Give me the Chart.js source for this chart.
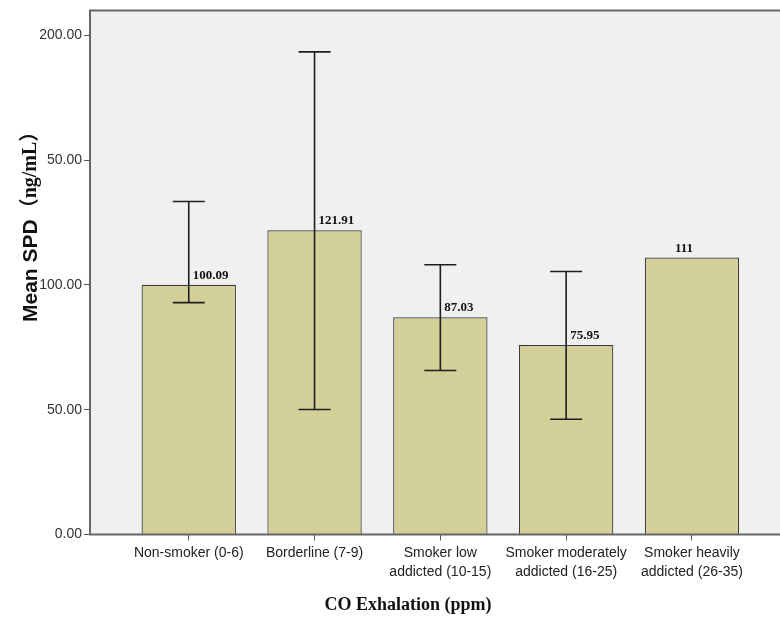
<!DOCTYPE html>
<html>
<head>
<meta charset="utf-8">
<script src="https://cdn.jsdelivr.net/npm/chart.js@4/dist/chart.umd.min.js"></script>
<style>
  html, body { margin: 0; padding: 0; background: #ffffff; }
  canvas { display: block; }
</style>
</head>
<body>
<canvas id="c" width="780" height="620"></canvas>
<script>
// CO exhalation groups (multi-line tick labels)
const categories = [
  ['Non-smoker (0-6)'],
  ['Borderline (7-9)'],
  ['Smoker low', 'addicted (10-15)'],
  ['Smoker moderately', 'addicted (16-25)'],
  ['Smoker heavily', 'addicted (26-35)']
];
// Mean SPD per group and the value printed above each bar
const meanValues = [100.09, 121.91, 87.03, 75.95, 111];
const valueLabels = ['100.09', '121.91', '87.03', '75.95', '111'];
// Error bar ends (no bar for the last group)
const errorLow = [92.9, 50.1, 65.7, 46.2, null];
const errorHigh = [133.4, 193.4, 108.1, 105.4, null];
// Y axis ticks as printed
const yTickValues = [0, 50, 100, 150, 200];
const yTickLabels = ['0.00', '50.00', '100.00', '50.00', '200.00'];

const plotFrame = {
  id: 'plotFrame',
  beforeDatasetsDraw(chart) {
    const { ctx, chartArea: a } = chart;
    ctx.save();
    ctx.fillStyle = '#f0f0f0';
    ctx.fillRect(a.left, a.top, a.right - a.left, a.bottom - a.top);
    ctx.restore();
  },
  afterDatasetsDraw(chart) {
    const { ctx, chartArea: a } = chart;
    ctx.save();
    ctx.strokeStyle = '#666666';
    ctx.lineWidth = 2;
    ctx.beginPath();
    ctx.moveTo(chart.width + 2, a.top);
    ctx.lineTo(a.left, a.top);
    ctx.lineTo(a.left, a.bottom);
    ctx.lineTo(chart.width + 2, a.bottom);
    ctx.stroke();

    // error bars
    const meta = chart.getDatasetMeta(0);
    const y = chart.scales.y;
    ctx.strokeStyle = '#1e1e1e';
    ctx.lineWidth = 1.6;
    meta.data.forEach((bar, i) => {
      if (errorLow[i] == null) return;
      const yl = y.getPixelForValue(errorLow[i]);
      const yh = y.getPixelForValue(errorHigh[i]);
      ctx.beginPath();
      ctx.moveTo(bar.x, yl); ctx.lineTo(bar.x, yh);
      ctx.moveTo(bar.x - 16, yl); ctx.lineTo(bar.x + 16, yl);
      ctx.moveTo(bar.x - 16, yh); ctx.lineTo(bar.x + 16, yh);
      ctx.stroke();
    });

    // value labels
    ctx.fillStyle = '#111111';
    ctx.font = 'bold 13px "Liberation Serif", serif';
    ctx.textBaseline = 'alphabetic';
    meta.data.forEach((bar, i) => {
      if (errorLow[i] == null) {
        ctx.textAlign = 'center';
        ctx.fillText(valueLabels[i], bar.x - 8, bar.y - 5);
      } else {
        ctx.textAlign = 'left';
        ctx.fillText(valueLabels[i], bar.x + 4, bar.y - 6);
      }
    });
    ctx.restore();
  },
  afterDraw(chart) {
    const { ctx } = chart;
    ctx.save();
    ctx.fillStyle = '#111111';
    ctx.font = 'bold 18px "Liberation Serif", serif';
    ctx.textAlign = 'center';
    ctx.textBaseline = 'middle';
    ctx.fillText('CO Exhalation (ppm)', 408, 605);

    ctx.translate(31, 322);
    ctx.rotate(-Math.PI / 2);
    ctx.textAlign = 'left';
    ctx.font = 'bold 21px "Liberation Sans", Arial, sans-serif';
    const t1 = 'Mean SPD';
    ctx.fillText(t1, 0, 0);
    const w1 = ctx.measureText(t1).width;
    ctx.font = 'bold 20px "Liberation Serif", "Noto Sans CJK SC", serif';
    ctx.fillText('（ng/mL）', w1 + 1, 0);
    ctx.restore();
  }
};

new Chart(document.getElementById('c'), {
  type: 'bar',
  data: {
    datasets: [{
      data: meanValues.map((v, i) => ({ x: i, y: v })),
      backgroundColor: '#d3cf98',
      borderColor: '#3a3a3a',
      borderWidth: 1.2,
      barPercentage: 0.75,
      categoryPercentage: 1
    }]
  },
  options: {
    responsive: false,
    animation: false,
    layout: { padding: { top: 9, right: 0, left: 0, bottom: 0 } },
    plugins: { legend: { display: false }, tooltip: { enabled: false } },
    scales: {
      x: {
        type: 'linear',
        offset: false,
        min: -0.785,
        max: 4.70,
        grid: { offset: false, drawOnChartArea: false, drawTicks: true, tickLength: 6, color: '#555555' },
        border: { display: false },
        afterBuildTicks: (s) => { s.ticks = categories.map((c, i) => ({ value: i })); },
        afterFit: (s) => { s.height = 85.5; },
        ticks: {
          autoSkip: false,
          maxRotation: 0,
          padding: 4,
          color: '#222222',
          font: { family: '"Liberation Sans", Arial, sans-serif', size: 14, lineHeight: 1.3 },
          callback: (v) => categories[v]
        }
      },
      y: {
        min: 0,
        max: 210,
        grid: { drawOnChartArea: false, drawTicks: true, tickLength: 6, color: '#555555' },
        border: { display: false },
        afterBuildTicks: (s) => { s.ticks = yTickValues.map(v => ({ value: v })); },
        afterFit: (s) => { s.width = 90; },
        ticks: {
          padding: 2,
          color: '#333333',
          font: { family: '"Liberation Sans", Arial, sans-serif', size: 14 },
          callback: (v, idx) => yTickLabels[idx]
        }
      }
    }
  },
  plugins: [plotFrame]
});
</script>
</body>
</html>
